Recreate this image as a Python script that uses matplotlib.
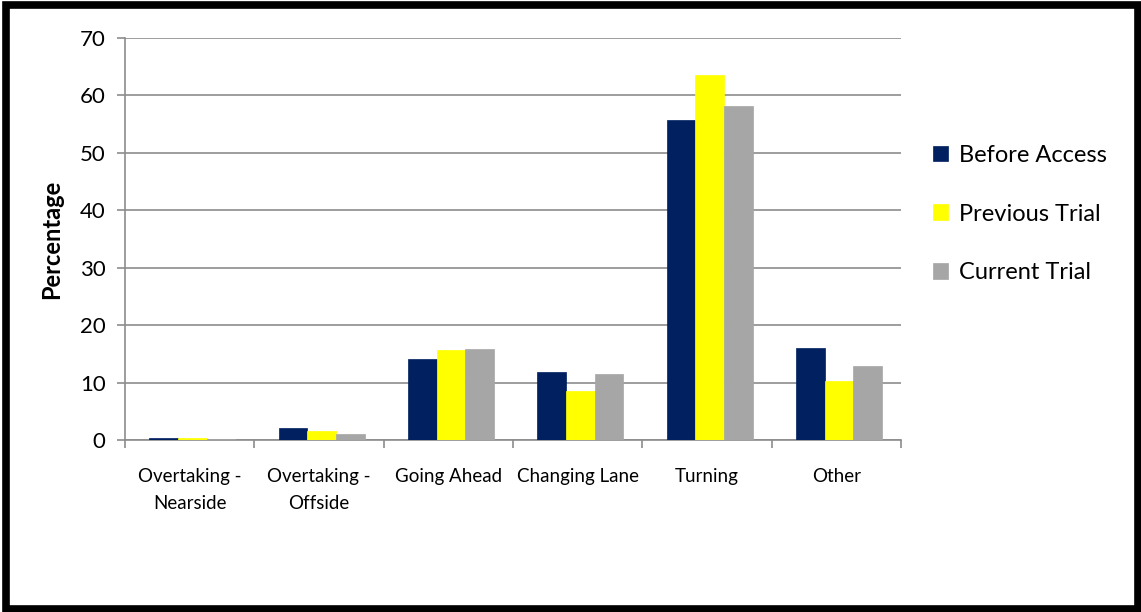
import numpy as np
import matplotlib.pyplot as plt
from matplotlib.patches import Rectangle

plt.rcParams["font.family"] = ["Lato", "DejaVu Sans"]

categories = ["Overtaking -\nNearside", "Overtaking -\nOffside", "Going Ahead",
              "Changing Lane", "Turning", "Other"]
before_access = [0.35, 2.1, 14.1, 11.8, 55.7, 16.0]
previous_trial = [0.3, 1.6, 15.7, 8.5, 63.5, 10.3]
current_trial = [0.25, 1.1, 15.8, 11.5, 58.2, 12.9]

series = [
    ("Before Access", before_access, "#002060"),
    ("Previous Trial", previous_trial, "#FFFF00"),
    ("Current Trial", current_trial, "#A6A6A6"),
]

fig = plt.figure(figsize=(11.41, 6.12), dpi=100)
ax = fig.add_axes([125 / 1141, 1 - 440 / 612, 776 / 1141, 402 / 612])

x = np.arange(len(categories))
width = 0.222
offset = 0.02
for i, (label, vals, color) in enumerate(series):
    ax.bar(x + offset + (i - 1) * width, vals, width, color=color, label=label,
           edgecolor=color, linewidth=0.5, zorder=3)

ax.set_xlim(-0.5, len(categories) - 0.5)
ax.set_ylim(0, 70)
ax.set_yticks(range(0, 71, 10))
ax.yaxis.grid(True, color="#8c8c8c", linewidth=1.2, zorder=0)
ax.set_xticks(np.arange(-0.5, len(categories), 1.0), minor=False)
ax.set_xticklabels([])
ax.set_xticks(x, minor=True)
ax.set_xticklabels(categories, minor=True, fontsize=13.5, linespacing=1.75)
ax.tick_params(axis="x", which="minor", length=0, pad=20)
ax.tick_params(axis="x", which="major", length=6, color="#8c8c8c", width=1.2)
ax.tick_params(axis="y", length=6, color="#8c8c8c", width=1.2, labelsize=16, pad=8)

for side in ["top", "right"]:
    ax.spines[side].set_visible(False)
for side in ["left", "bottom"]:
    ax.spines[side].set_color("#8c8c8c")
    ax.spines[side].set_linewidth(1.2)

ax.set_ylabel("Percentage", fontsize=17, fontweight="bold", labelpad=12)

ax.legend(loc="upper left", bbox_to_anchor=(1.014, 0.787), frameon=False,
          fontsize=17, handlelength=0.65, handleheight=0.65,
          labelspacing=1.6, handletextpad=0.45)

# black frame round the whole chart area
fig.patches.append(Rectangle((6 / 1141, 3 / 612), 1132 / 1141, 604 / 612,
                             transform=fig.transFigure, fill=False,
                             edgecolor="black", linewidth=5.5))

fig.savefig("out.png", dpi=100)
